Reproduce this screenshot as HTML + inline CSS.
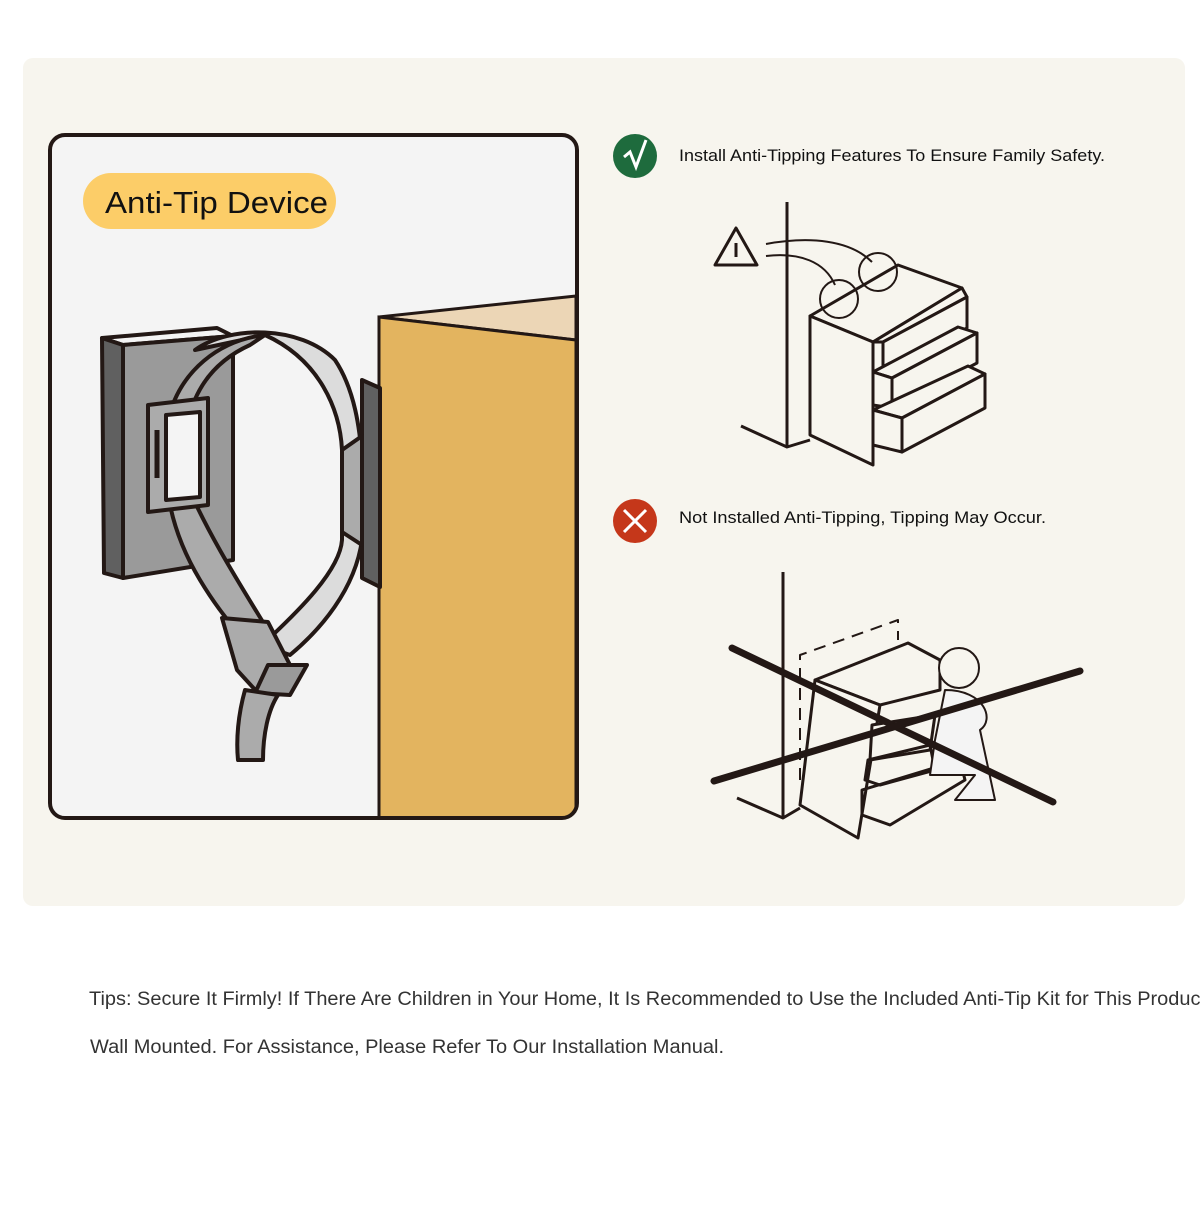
<!DOCTYPE html>
<html><head><meta charset="utf-8"><style>
html,body{margin:0;padding:0;background:#fff;}
svg{display:block;font-family:"Liberation Sans",sans-serif;}
</style></head><body>
<svg width="1200" height="1220" viewBox="0 0 1200 1220" xmlns="http://www.w3.org/2000/svg">
<defs><clipPath id="bx"><rect x="50" y="135" width="527" height="683" rx="15"/></clipPath></defs>
<rect x="0" y="0" width="1200" height="1220" fill="#ffffff"/>
<rect x="23" y="58" width="1162" height="848" rx="10" fill="#f7f5ee"/>

<!-- left box -->
<rect x="50" y="135" width="527" height="683" rx="15" fill="#f4f4f4"/>
<g clip-path="url(#bx)">
<polygon points="379,317 576,296 576,340" fill="#ecd6b6" stroke="#231815" stroke-width="3" stroke-linejoin="round"/>
<polygon points="379,317 576,340 576,820 379,820" fill="#e3b45f" stroke="#231815" stroke-width="3"/>
</g>
<rect x="50" y="135" width="527" height="683" rx="15" fill="none" stroke="#231815" stroke-width="4"/>
<rect x="83" y="173" width="253" height="56" rx="28" fill="#fccd68"/>
<text x="105" y="213" font-size="31" fill="#111" textLength="223" lengthAdjust="spacingAndGlyphs">Anti-Tip Device</text>

<!-- wall plate -->
<g stroke="#231815" stroke-width="4" stroke-linejoin="round">
<polygon points="102,338 217,328 233,336 123,345" fill="#f4f4f4"/>
<polygon points="102,338 123,345 123,578 104,573" fill="#606060"/>
<polygon points="123,345 233,336 233,560 123,578" fill="#9a9a9a"/>
<path d="M195,350 C230,325 300,325 335,360 C355,390 360,430 362,460 L362,540 C355,590 320,630 290,655 L262,645 C300,610 340,570 342,540 L342,450 C340,410 320,360 265,335 Z" fill="#dcdcdc"/>
<path d="M265,335 C220,340 180,370 168,420 C160,480 170,530 200,580 C215,605 230,625 250,645 L280,650 C250,600 210,540 185,480 C180,420 195,370 250,345 Z" fill="#ababab"/>
<polygon points="148,405 208,398 208,505 148,512" fill="#ababab"/>
<polygon points="166,415 200,412 200,497 166,500" fill="#f4f4f4"/>
<line x1="157" y1="430" x2="157" y2="478" stroke-width="5"/>
<polygon points="362,380 380,388 380,587 362,578" fill="#606060"/>
<polygon points="342,450 362,436 362,545 342,532" fill="#ababab"/>
<polygon points="222,618 268,622 290,665 273,695 258,693 237,670" fill="#ababab"/>
<polygon points="268,665 307,665 290,695 255,693" fill="#9a9a9a"/>
<path d="M245,690 C238,715 236,740 238,760 L263,760 C263,735 268,710 278,695 Z" fill="#ababab"/>
</g>

<!-- right top -->
<circle cx="635" cy="156" r="22" fill="#1e6b3d"/>
<path d="M624,157 L630,152 L636,167 L646,140" fill="none" stroke="#fff" stroke-width="3"/>
<text x="679" y="161" font-size="17" fill="#111" textLength="426" lengthAdjust="spacingAndGlyphs">Install Anti-Tipping Features To Ensure Family Safety.</text>

<g fill="#f7f5ee" stroke="#231815" stroke-width="3" stroke-linejoin="round">
<line x1="787" y1="202" x2="787" y2="447"/>
<polyline fill="none" points="741,426 787,447 810,440"/>
<polygon points="715,265 736,228 757,265"/>
<line x1="736" y1="243" x2="736" y2="257"/>
<path fill="none" d="M766,244 C810,236 850,240 872,262" stroke-width="2"/>
<path fill="none" d="M766,256 C800,252 825,262 835,285" stroke-width="2"/>
<polygon points="810,316 898,265 962,288 873,342"/>
<polygon points="810,316 873,342 873,465 810,435"/>
<circle fill="none" cx="839" cy="299" r="19" stroke-width="2"/>
<circle fill="none" cx="878" cy="272" r="19" stroke-width="2"/>
<polygon points="873,342 962,288 967,297 883,342"/>
<polygon points="873,342 883,342 883,372 873,372"/>
<polygon points="883,342 967,297 967,328 883,372"/>
<polygon points="873,372 958,327 977,333 892,378"/>
<polygon points="873,372 892,378 892,408 873,405"/>
<polygon points="892,378 977,333 977,363 892,408"/>
<polygon points="873,410 968,366 985,374 902,418"/>
<polygon points="873,410 902,418 902,452 873,445"/>
<polygon points="902,418 985,374 985,408 902,452"/>
</g>

<!-- right bottom -->
<circle cx="635" cy="521" r="22" fill="#c5371a"/>
<path d="M624,510 L646,532 M646,510 L624,532" stroke="#fff" stroke-width="3"/>
<text x="679" y="523" font-size="17" fill="#111" textLength="367" lengthAdjust="spacingAndGlyphs">Not Installed Anti-Tipping, Tipping May Occur.</text>

<g fill="none" stroke="#231815" stroke-width="3" stroke-linejoin="round">
<line x1="783" y1="572" x2="783" y2="818"/>
<polyline points="737,798 783,818 800,808"/>
<polyline points="800,780 800,655 898,620 898,640" stroke-dasharray="12,8" stroke-width="2"/>
<polygon points="815,680 908,643 940,660 940,690 880,705" fill="#f7f5ee"/>
<polygon points="815,680 880,705 858,838 800,805" fill="#f7f5ee"/>
<polygon points="872,725 935,715 930,750 870,760" fill="#f7f5ee"/>
<polygon points="868,760 930,745 935,770 880,785 865,780"/>
<polygon points="862,790 960,760 965,780 890,825 862,815"/>
<circle cx="959" cy="668" r="20" fill="#f7f5ee" stroke-width="2"/>
<path d="M945,690 C985,690 995,720 980,730 L995,800 L955,800 L975,775 L950,775 L930,775 L935,740 Z" fill="#f4f4f4" stroke-width="2"/>
</g>
<line x1="732" y1="648" x2="1053" y2="802" stroke="#231815" stroke-width="7" stroke-linecap="round"/>
<line x1="714" y1="781" x2="1080" y2="671" stroke="#231815" stroke-width="7" stroke-linecap="round"/>

<!-- tips -->
<text x="89" y="1005" font-size="19" fill="#333" textLength="1117" lengthAdjust="spacingAndGlyphs">Tips: Secure It Firmly! If There Are Children in Your Home, It Is Recommended to Use the Included Anti-Tip Kit for This Product</text>
<text x="90" y="1053" font-size="19" fill="#333" textLength="634" lengthAdjust="spacingAndGlyphs">Wall Mounted. For Assistance, Please Refer To Our Installation Manual.</text>
</svg>
</body></html>
